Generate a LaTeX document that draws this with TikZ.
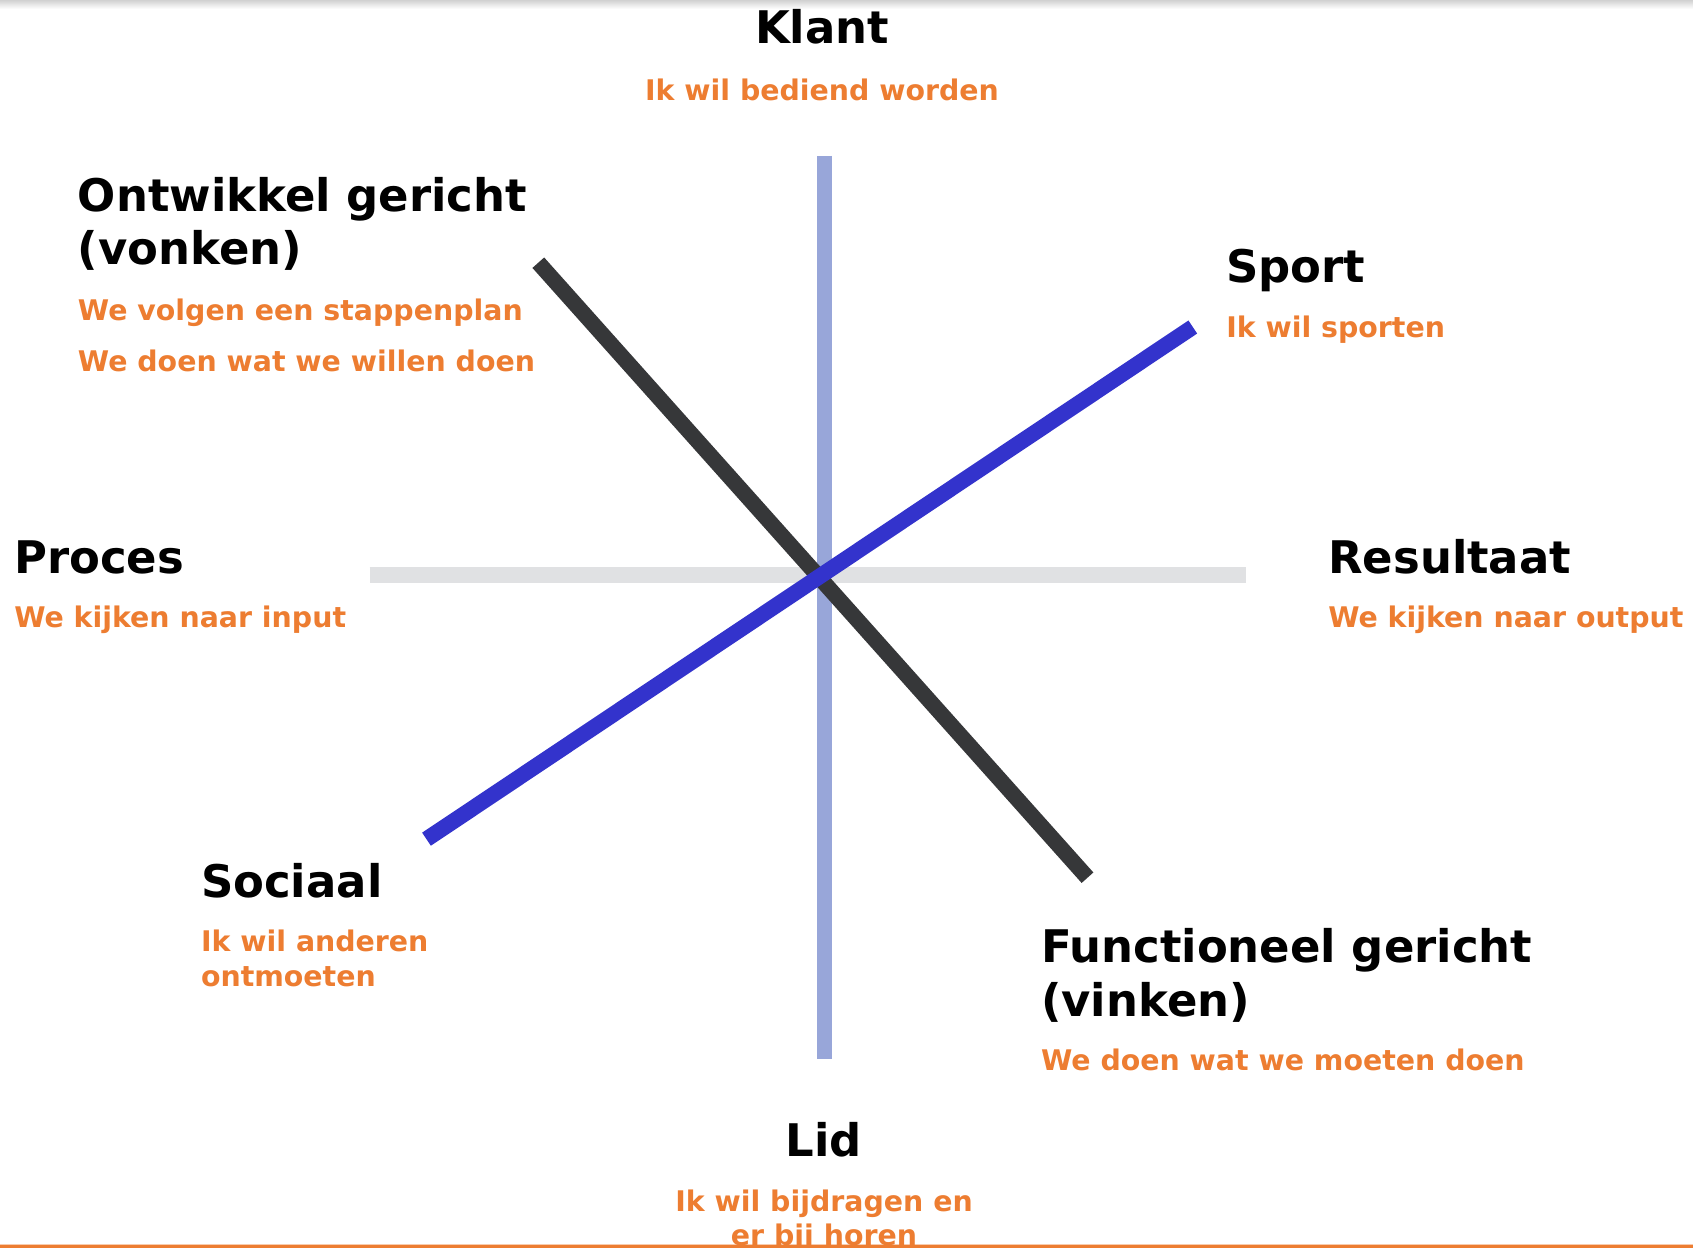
\documentclass[tikz,border=0pt]{standalone}
\usepackage{fontspec}
\setmainfont{DejaVu Sans}
\definecolor{orangeT}{HTML}{ED7D31}
\definecolor{axisV}{HTML}{98A6D9}
\definecolor{axisH}{HTML}{E0E1E3}
\definecolor{darkL}{HTML}{363739}
\definecolor{blueL}{HTML}{3333CC}
\begin{document}
\begin{tikzpicture}[x=0.75pt,y=-0.75pt,
  title/.style={font=\fontsize{33.7}{40}\selectfont\bfseries, text=black, inner sep=0},
  sub/.style={font=\fontsize{21.3}{26}\selectfont\bfseries, text=orangeT, inner sep=0},
  axis/.style={line width=11.8pt, line cap=butt}]
\useasboundingbox (0,0) rectangle (1693,1248);
\fill[white] (0,0) rectangle (1693,1248);
% top shadow and bottom line
\shade[top color=black!18, bottom color=white] (0,0) rectangle (1693,9);
\fill[orangeT!40] (0,1243.5) rectangle (1693,1245);

% axis end points
\coordinate (vT) at (824.5,156);
\coordinate (vB) at (824.5,1059.3);
\coordinate (hL) at (369.7,574.7);
\coordinate (hR) at (1246,574.7);
\coordinate (dT) at (538.3,262.7);
\coordinate (dB) at (1087.5,877.7);
\coordinate (bL) at (426.5,839.2);
\coordinate (bR) at (1192.8,327);

\draw[axis, axisV] (vT) -- (vB);
\draw[axis, axisH] (hL) -- (hR);
\draw[axis, darkL] (dT) -- (dB);
\draw[axis, blueL] (bL) -- (bR);

% top
\node[title, anchor=base] (klant) at (822,44) {Klant};
\node[sub, anchor=base] (klantS) at (822,100.5) {Ik wil bediend worden};
% upper left
\node[title, anchor=base west] (ont1) at (77.7,211.6) {Ontwikkel gericht};
\node[title, anchor=base west] (ont2) at (77.7,264.5) {(vonken)};
\node[sub, anchor=base west] (ontS1) at (77.7,321) {We volgen een stappenplan};
\node[sub, anchor=base west] (ontS2) at (77.7,371.8) {We doen wat we willen doen};
% upper right
\node[title, anchor=base west] (sport) at (1226,282.9) {Sport};
\node[sub, anchor=base west] (sportS) at (1226,337.3) {Ik wil sporten};
% left
\node[title, anchor=base west] (proces) at (14,573.3) {Proces};
\node[sub, anchor=base west] (procesS) at (14,627.7) {We kijken naar input};
% right
\node[title, anchor=base west] (res) at (1328,573.3) {Resultaat};
\node[sub, anchor=base west] (resS) at (1328,627.7) {We kijken naar output};
% lower left
\node[title, anchor=base west] (soc) at (200.8,897.2) {Sociaal};
\node[sub, anchor=base west] (socS1) at (200.8,951.6) {Ik wil anderen};
\node[sub, anchor=base west] (socS2) at (200.8,986.2) {ontmoeten};
% lower right
\node[title, anchor=base west] (fun1) at (1040.8,962.4) {Functioneel gericht};
\node[title, anchor=base west] (fun2) at (1040.8,1016.4) {(vinken)};
\node[sub, anchor=base west] (funS) at (1040.8,1070.4) {We doen wat we moeten doen};
% bottom
\node[title, anchor=base] (lid) at (824,1156.4) {Lid};
\node[sub, anchor=base] (lidS1) at (824,1211.8) {Ik wil bijdragen en};
\node[sub, anchor=base] (lidS2) at (824,1245) {er bij horen};
\fill[orangeT] (0,1245) rectangle (1693,1248);
\end{tikzpicture}
\end{document}
